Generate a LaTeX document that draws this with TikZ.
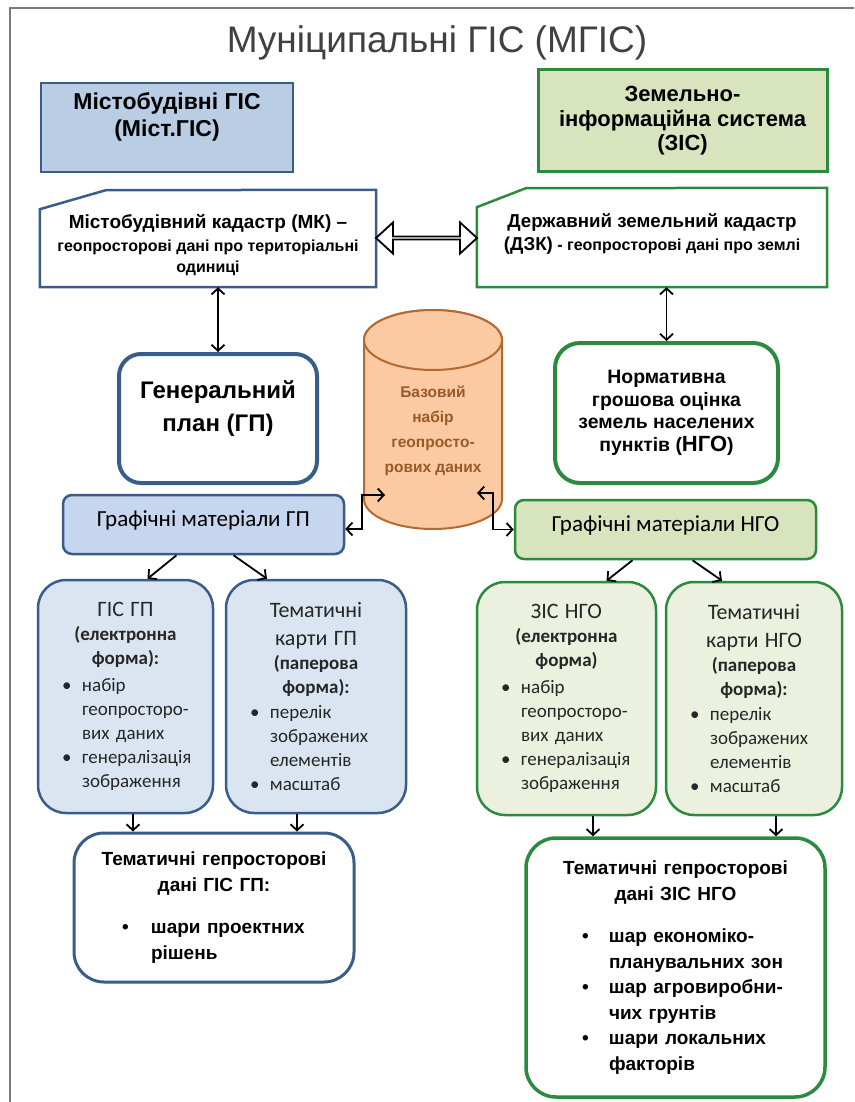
\documentclass[tikz,border=0pt]{standalone}
\usepackage{fontspec}
\setmainfont{Liberation Sans}
\newfontfamily\calib{Carlito}
\usetikzlibrary{arrows.meta,shapes.arrows,positioning}
\definecolor{gisblue}{HTML}{385D8A}
\definecolor{zisgreen}{HTML}{2B8A3E}
\definecolor{gisfill}{HTML}{B9CDE5}
\definecolor{zisfill}{HTML}{D7E4BD}
\definecolor{gmfill}{HTML}{C5D6EE}
\definecolor{gpfill}{HTML}{DBE5F1}
\definecolor{ngofill}{HTML}{EBF1DE}
\definecolor{cylfill}{HTML}{FBC9A2}
\definecolor{cylline}{HTML}{B5692F}
\definecolor{cyltext}{HTML}{9A5A28}
\definecolor{ttlgray}{HTML}{404040}
\definecolor{framegray}{HTML}{7A7A7A}
\definecolor{listtext}{HTML}{262626}
\newlength\itmskip
\newlength\itmlab
\newcommand\hdr[1]{{\centering #1\par}}
\newcommand\itm[1]{{\leftskip=\itmskip\rightskip=0pt plus 1fil\noindent\llap{\makebox[\itmlab][l]{\textbullet}}#1\par}}
\begin{document}
\begin{tikzpicture}[x=1pt,y=-1pt,
    gisbox/.style={rectangle, draw=gisblue, fill=gisfill, line width=2.5pt},
    zisbox/.style={rectangle, draw=zisgreen, fill=zisfill, line width=2.5pt},
    bigtext/.style={font=\fontsize{23pt}{27pt}\selectfont\bfseries, align=center},
    listbox/.style={rectangle, rounded corners=28pt, line width=2.5pt, inner sep=0pt,
      text width=#1, minimum height=233pt, text=listtext,
      font=\calib\fontsize{19pt}{24pt}\selectfont,
      execute at begin node={\setlength\itmskip{44pt}\setlength\itmlab{20pt}}},
    tdbox/.style={rectangle, rounded corners=30pt, line width=3pt, fill=white, inner sep=0pt,
      text width=#1, font=\fontsize{19pt}{25.5pt}\selectfont\bfseries},
    cyl/.style={draw=cylline, fill=cylfill, line width=2pt},
    arr/.style={line width=1.8pt, -{Straight Barb[length=6pt,width=13pt]}},
    darr/.style={line width=1.8pt, {Straight Barb[length=6pt,width=13pt]}-{Straight Barb[length=6pt,width=13pt]}}]
  \useasboundingbox (0,0) rectangle (854,1102);
  \draw[framegray, line width=2pt] (10,1102) -- (10,8) -- (854,8);
  \node[text=ttlgray, font=\fontsize{37pt}{40pt}\selectfont] (ttl) at (437,43) {Муніципальні ГІС (МГІС)};

  % top row
  \node[gisbox, minimum width=252pt, minimum height=89pt,
    label={[name=mgist, bigtext, yshift=11pt]center:{Містобудівні ГІС\\(Міст.ГІС)}}] (mgis) at (167,127.5) {};
  \node[zisbox, line width=3pt, minimum width=289pt, minimum height=102pt,
    font=\fontsize{22pt}{24.5pt}\selectfont\bfseries, align=center] (zis) at (682.5,121)
    {Земельно-\\інформаційна система\\(ЗІС)};

  % cadastres
  \node[minimum width=336pt, minimum height=97pt,
    label={[name=mkt, font=\fontsize{16pt}{21pt}\selectfont\bfseries, align=center, yshift=-6.5pt]center:{%
      {\fontsize{19pt}{23pt}\selectfont Містобудівний кадастр (МК) –}\\[2pt]
      геопросторові дані про територіальні\\одиниці}}] (mk) at (208,238.5) {};
  \draw[gisblue, line width=2.5pt] (mk.south west) -- ++(0,-78) -- ++(66,-19) -- (mk.north east) -- (mk.south east) -- cycle;
  \node[minimum width=350pt, minimum height=99pt,
    label={[name=dzkt, font=\fontsize{16pt}{21pt}\selectfont\bfseries, align=center, yshift=4pt]center:{%
      {\fontsize{18.7pt}{23pt}\selectfont Державний земельний кадастр}\\[2pt]
      {\fontsize{18.7pt}{23pt}\selectfont (ДЗК)} - геопросторові дані про землі}}] (dzk) at (652,237.5) {};
  \draw[zisgreen, line width=2.5pt] (dzk.south west) -- ++(0,-80) -- ++(49,-19) -- (dzk.north east) -- (dzk.south east) -- cycle;
  \node[double arrow, draw, fill=white, line width=1.8pt, inner sep=0pt, minimum height=101pt,
    minimum width=31pt, double arrow head extend=9pt, double arrow tip angle=85] (link) at (426.5,238) {};

  % plans
  \node[rectangle, rounded corners=22pt, draw=gisblue, line width=4pt, fill=white,
    minimum width=198pt, minimum height=129pt,
    label={[name=gpt, font=\fontsize{24pt}{33pt}\selectfont\bfseries, align=center, yshift=10pt]center:{Генеральний\\план (ГП)}}] (gp) at (218,418.5) {};
  \node[rectangle, rounded corners=25pt, draw=zisgreen, line width=4pt, fill=white,
    minimum width=223pt, minimum height=140pt, font=\fontsize{19.4pt}{22.5pt}\selectfont\bfseries, align=center] (ngo) at (666.5,413)
    {Нормативна\\грошова оцінка\\земель населених\\пунктів ({\fontsize{22pt}{22pt}\selectfont НГО})};

  % base data set
  \filldraw[cyl] (364,340) -- (364,499) arc[start angle=180, end angle=0, x radius=69, y radius=30]
    -- (502,340) arc[start angle=0, end angle=-180, x radius=69, y radius=30] -- cycle;
  \draw[cyl] (433,340) ellipse [x radius=69, y radius=30];
  \node[text=cyltext, font=\fontsize{15.5pt}{25pt}\selectfont\bfseries, align=center] (bd) at (433,430.5)
    {Базовий\\набір\\геопросто-\\рових даних};
  \coordinate (bdl) at (385,495);
  \coordinate (bdr) at (477,493);

  % graphic materials
  \node[gisbox, fill=gmfill, rounded corners=9pt, minimum width=281pt, minimum height=59pt,
    label={[name=gmgpt, font=\calib\fontsize{23pt}{24pt}\selectfont, yshift=4.5pt]center:Графічні матеріали ГП}] (gmgp) at (203.5,524.5) {};
  \node[zisbox, rounded corners=9pt, minimum width=301pt, minimum height=59pt,
    label={[name=gmngot, font=\calib\fontsize{23pt}{24pt}\selectfont, yshift=4.5pt]center:Графічні матеріали НГО}] (gmngo) at (665.5,529.5) {};

  % forms
  \node[listbox=175pt, draw=gisblue, fill=gpfill] (gisgp) at (125.5,696.5)
    {\hdr{\fontsize{22pt}{26pt}\selectfont ГІС ГП}\hdr{\bfseries(електронна\\форма):}\vskip3pt
     \itm{набір\\геопросторо-\\вих даних}\itm{генералізація\\зображення}};
  \node[listbox=180pt, draw=gisblue, fill=gpfill] (tkgp) at (316,696.5)
    {\hdr{\fontsize{22pt}{28pt}\selectfont Тематичні\\карти ГП}\hdr{\bfseries(паперова\\форма):}\vskip1pt
     \itm{перелік\\зображених\\елементів}\itm{масштаб}};
  \node[listbox=179pt, draw=zisgreen, fill=ngofill] (zisngo) at (566.5,698.5)
    {\hdr{\fontsize{22pt}{26pt}\selectfont ЗІС НГО}\hdr{\bfseries(електронна\\форма)}\vskip3pt
     \itm{набір\\геопросторо-\\вих даних}\itm{генералізація\\зображення}};
  \node[listbox=176pt, draw=zisgreen, fill=ngofill] (tkngo) at (754,698.5)
    {\hdr{\fontsize{22pt}{28pt}\selectfont Тематичні\\карти НГО}\hdr{\bfseries(паперова\\форма):}\vskip1pt
     \itm{перелік\\зображених\\елементів}\itm{масштаб}};

  % thematic data
  \node[tdbox=280pt, draw=gisblue, minimum height=149pt,
    execute at begin node={\setlength\itmskip{77pt}\setlength\itmlab{29pt}}] (tdgp) at (214,907.5)
    {\hdr{Тематичні гепросторові\\дані ГІС ГП:}\vskip17pt\itm{шари проектних\\рішень}};
  \node[tdbox=299pt, draw=zisgreen, line width=3.5pt, minimum height=259pt,
    execute at begin node={\setlength\itmskip{83pt}\setlength\itmlab{27pt}}] (tdngo) at (675.5,967.5)
    {\hdr{Тематичні гепросторові\\дані ЗІС НГО}\vskip17pt
     \itm{шар економіко-\\планувальних зон}\itm{шар агровиробни-\\чих грунтів}\itm{шари локальних\\факторів}};

  % connectors
  \draw[darr] (gp.north |- mk.south) -- (gp.north);
  \draw[darr] (ngo.north |- dzk.south) -- (ngo.north);
  \draw[darr] ([yshift=-4.5pt]gmgp.east) -- ++(17,0) |- (bdl);
  \draw[darr] (bdr) -- ++(16,0) |- (gmngo.west);
  \draw[arr] ([xshift=-27pt]gmgp.south) -- ([xshift=22pt]gisgp.north);
  \draw[arr] ([xshift=30pt]gmgp.south) -- ([xshift=-49pt]tkgp.north);
  \draw[arr] ([xshift=-33pt]gmngo.south) -- ([xshift=40pt]zisngo.north);
  \draw[arr] ([xshift=27pt]gmngo.south) -- ([xshift=-32pt]tkngo.north);
  \draw[arr] ([xshift=7.5pt]gisgp.south) -- ([xshift=7.5pt]gisgp.south |- tdgp.north);
  \draw[arr] ([xshift=-19pt]tkgp.south) -- ([xshift=-19pt]tkgp.south |- tdgp.north);
  \draw[arr] ([xshift=26.5pt]zisngo.south) -- ([xshift=26.5pt]zisngo.south |- tdngo.north);
  \draw[arr] ([xshift=22pt]tkngo.south) -- ([xshift=22pt]tkngo.south |- tdngo.north);
\end{tikzpicture}
\end{document}
